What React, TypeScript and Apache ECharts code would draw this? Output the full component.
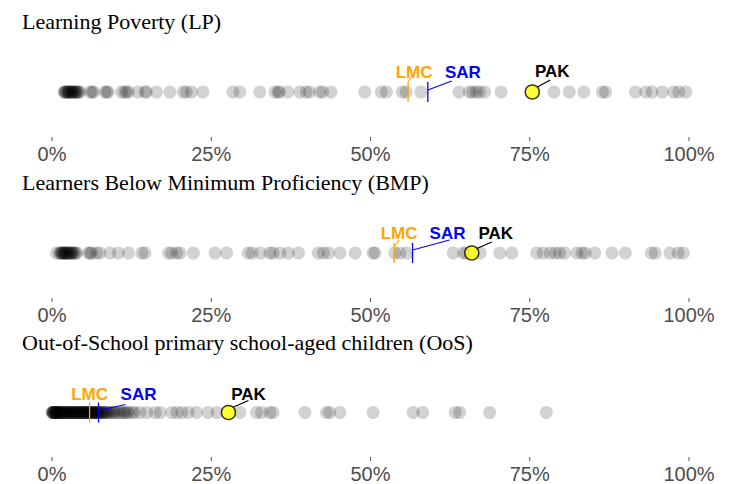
import React, { useEffect, useRef } from "react";
import * as echarts from "echarts";

// ---- data ----
const panelTitles = [
  "Learning Poverty (LP)",
  "Learners Below Minimum Proficiency (BMP)",
  "Out-of-School primary school-aged children (OoS)",
];
const tickValues = [0, 25, 50, 75, 100];

const lpValues = [1.9, 2.0, 2.1, 2.2, 2.4, 2.5, 2.6, 2.7, 2.8, 3.0, 3.1, 3.2, 3.3, 3.5, 3.6, 3.7, 3.9, 4.0, 4.2, 4.4, 6.0, 6.3, 6.5, 8.3, 8.6, 8.8, 10.9, 11.4, 11.7, 12.0, 13.5, 14.6, 14.8, 16.4, 18.5, 20.6, 21.1, 21.9, 23.7, 28.4, 29.5, 32.6, 35.0, 35.5, 35.7, 37.0, 38.9, 39.9, 40.4, 42.0, 42.5, 43.8, 49.1, 51.7, 52.5, 55.0, 55.6, 57.9, 63.9, 65.5, 66.0, 66.6, 67.1, 67.9, 70.5, 78.8, 81.2, 83.5, 86.4, 86.9, 91.6, 93.2, 94.2, 95.8, 97.6, 98.4, 99.5];

const bmpValues = [0.7, 1.2, 1.3, 1.5, 1.6, 1.7, 1.8, 2.0, 2.1, 2.2, 2.3, 2.4, 2.6, 2.7, 2.9, 3.0, 3.1, 3.3, 3.5, 3.7, 3.9, 5.7, 6.0, 6.2, 7.0, 7.5, 9.1, 10.4, 12.0, 14.1, 14.6, 18.3, 18.8, 19.6, 20.1, 22.2, 25.6, 27.4, 30.8, 31.4, 32.7, 34.2, 34.7, 35.8, 37.1, 38.7, 41.8, 42.6, 43.4, 45.2, 47.6, 50.4, 50.7, 53.8, 54.6, 55.7, 63.0, 64.6, 65.0, 67.2, 70.3, 72.2, 76.1, 77.1, 78.2, 79.0, 79.7, 80.5, 82.4, 83.2, 83.7, 85.2, 87.9, 90.0, 94.1, 94.7, 97.0, 98.3, 99.1];

const oosValues = [0.0, 0.1, 0.1, 0.2, 0.2, 0.3, 0.3, 0.4, 0.5, 0.5, 0.6, 0.7, 0.8, 0.8, 0.9, 1.0, 1.1, 1.2, 1.2, 1.3, 1.4, 1.5, 1.6, 1.7, 1.8, 1.9, 2.0, 2.1, 2.2, 2.3, 2.4, 2.5, 2.6, 2.7, 2.8, 2.9, 3.0, 3.1, 3.2, 3.3, 3.4, 3.5, 3.6, 3.7, 3.8, 3.9, 4.0, 4.1, 4.2, 4.3, 4.4, 4.5, 4.6, 4.7, 4.8, 4.9, 5.0, 5.1, 5.2, 5.3, 5.4, 5.5, 5.6, 5.7, 5.8, 5.9, 6.0, 6.1, 6.2, 6.3, 6.4, 6.5, 6.6, 6.7, 6.8, 6.9, 7.0, 7.1, 7.2, 7.3, 7.5, 7.6, 7.8, 7.9, 8.1, 8.2, 8.4, 8.6, 8.8, 9.0, 9.3, 9.6, 9.8, 10.1, 10.5, 10.8, 11.2, 11.4, 11.8, 12.0, 12.6, 13.0, 13.8, 14.9, 16.2, 17.0, 18.8, 19.6, 20.4, 21.4, 22.7, 24.5, 25.9, 29.5, 32.1, 32.9, 34.2, 34.7, 39.7, 43.1, 43.6, 45.2, 50.4, 56.7, 58.2, 63.3, 64.0, 68.7, 77.6];

const refNames = ["LMC", "SAR", "PAK"];
const lpRefs = [55.9, 59.0, 75.4];
const bmpRefs = [53.7, 56.6, 65.9];
const oosRefs = [5.9, 7.3, 27.7];

// ---- layout / style ----
const refColors = ["#FFA500", "#0000FF", "#000000"];
const dotsY = [92, 253, 413];
const titleTops = [10, 171, 331];
// per panel, per ref: label offset [dx, dy] and connector [x1, y1, x2, y2] in px
const annotLayout = [
  [
    { label: [6, -20], conn: [0, -10, 3, -15] },
    { label: [35, -20], conn: [0, -2, 24, -11] },
    { label: [20, -21], conn: [5, -5, 18, -12] },
  ],
  [
    { label: [5, -20], conn: [0, -6, 5, -13] },
    { label: [35, -20], conn: [0, -3, 37, -13] },
    { label: [24, -20], conn: [4, -4, 20, -11] },
  ],
  [
    { label: [0, -18], conn: null },
    { label: [40, -18], conn: [0, -2, 27, -8] },
    { label: [20, -18], conn: [4, -5, 20, -12] },
  ],
];

const allValues = [lpValues, bmpValues, oosValues];
const allRefs = [lpRefs, bmpRefs, oosRefs];

export default function App() {
  const ref = useRef<HTMLDivElement>(null);
  useEffect(() => {
    document.body.style.margin = "0";
    const chart = echarts.init(ref.current!, null, { renderer: "svg" });
    const grids: any[] = [];
    const xAxes: any[] = [];
    const yAxes: any[] = [];
    const series: any[] = [];
    const titles: any[] = [];
    for (let i = 0; i < 3; i++) {
      grids.push({ left: 52, width: 637, top: dotsY[i] - 45, height: 90 });
      xAxes.push({
        gridIndex: i,
        type: "value",
        position: "bottom",
        min: 0,
        max: 100,
        interval: 25,
        axisLine: { show: false, onZero: false },
        axisTick: { show: false },
        splitLine: { show: false },
        axisLabel: {
          formatter: "{value}%",
          fontSize: 20,
          color: "#4d4d4d",
          fontFamily: "Liberation Sans",
          margin: 7,
        },
      });
      yAxes.push({ gridIndex: i, type: "value", min: -1, max: 1, show: false });
      titles.push({
        text: panelTitles[i],
        left: 22,
        top: titleTops[i],
        padding: 0,
        textStyle: { fontFamily: "Liberation Serif", fontSize: 22, fontWeight: "normal", color: "#000" },
      });
      // small axis ticks
      series.push({
        type: "custom",
        xAxisIndex: i,
        yAxisIndex: i,
        clip: false,
        silent: true,
        z: 1,
        data: tickValues.map((v) => [v, -1]),
        renderItem: (params: any, api: any) => {
          const p = api.coord([api.value(0), api.value(1)]);
          return {
            type: "line",
            shape: { x1: p[0], y1: p[1], x2: p[0], y2: p[1] + 4 },
            style: { stroke: "#555", lineWidth: 1 },
          };
        },
      });
      series.push({
        type: "scatter",
        xAxisIndex: i,
        yAxisIndex: i,
        data: allValues[i].map((v) => [v, 0]),
        symbolSize: 13,
        itemStyle: { color: "rgba(0,0,0,0.22)" },
        silent: true,
        z: 2,
      });
      const layout = annotLayout[i];
      series.push({
        type: "custom",
        xAxisIndex: i,
        yAxisIndex: i,
        z: 3,
        clip: false,
        data: allRefs[i].map((v, k) => [v, 0, k]),
        renderItem: (params: any, api: any) => {
          const k = api.value(2);
          const p = api.coord([api.value(0), 0]);
          const color = refColors[k];
          const cfg = layout[k];
          const children: any[] = [];
          if (k < 2) {
            children.push({
              type: "line",
              shape: { x1: p[0], y1: p[1] - 10, x2: p[0], y2: p[1] + 10 },
              style: { stroke: color, lineWidth: 1.3 },
            });
          }
          if (cfg.conn) {
            const c = cfg.conn;
            children.push({
              type: "line",
              shape: { x1: p[0] + c[0], y1: p[1] + c[1], x2: p[0] + c[2], y2: p[1] + c[3] },
              style: { stroke: color, lineWidth: 1.2 },
            });
          }
          children.push({
            type: "text",
            style: {
              text: refNames[k],
              x: p[0] + cfg.label[0],
              y: p[1] + cfg.label[1],
              align: "center",
              verticalAlign: "middle",
              fill: color,
              fontSize: 17,
              fontWeight: "bold",
              fontFamily: "Liberation Sans",
            },
          });
          return { type: "group", children };
        },
      });
      series.push({
        type: "scatter",
        xAxisIndex: i,
        yAxisIndex: i,
        data: [[allRefs[i][2], 0]],
        symbolSize: 14,
        itemStyle: { color: "#FFFF00", borderColor: "#000", borderWidth: 1.5 },
        z: 4,
        silent: true,
      });
    }
    chart.setOption({
      animation: false,
      backgroundColor: "#fff",
      title: titles,
      grid: grids,
      xAxis: xAxes,
      yAxis: yAxes,
      series,
    });
    return () => chart.dispose();
  }, []);
  return <div ref={ref} style={{ width: 735, height: 484 }} />;
}
